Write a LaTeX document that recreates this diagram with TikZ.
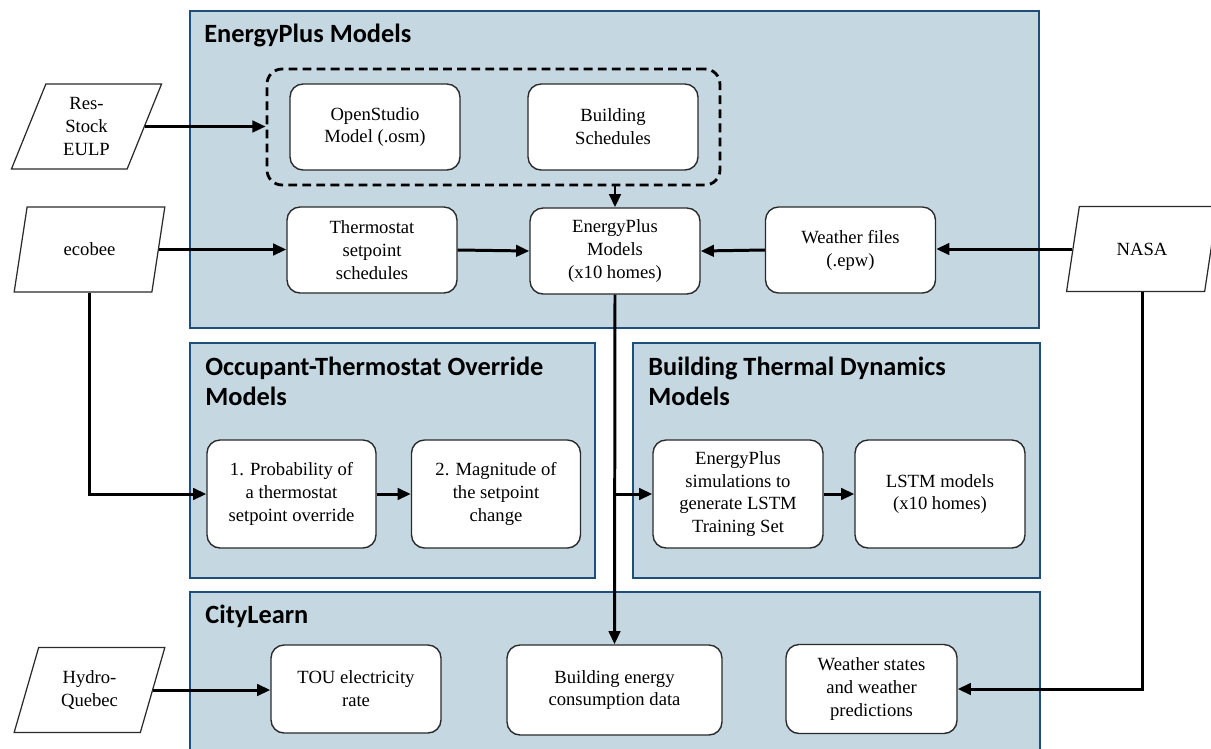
\documentclass[tikz,border=0pt]{standalone}
\usepackage{fontspec}
\setmainfont{Liberation Serif}
\newfontfamily\titlefont{Carlito}
\usetikzlibrary{arrows.meta,shapes.geometric}
\definecolor{panelfill}{HTML}{C5D8E1}
\definecolor{panelborder}{HTML}{1F4E79}
\definecolor{boxborder}{HTML}{2A2A2A}
\begin{document}
\begin{tikzpicture}[x=0.02cm,y=-0.02cm,
  panel/.style={draw=panelborder, fill=panelfill, line width=1.6pt},
  box/.style={draw=boxborder, fill=white, rounded corners=0.26cm, line width=0.8pt, align=center,
    minimum width=3.4cm, minimum height=1.72cm, inner sep=2pt, font=\fontsize{10.6}{13}\selectfont},
  para/.style={trapezium, trapezium left angle=71, trapezium right angle=109, trapezium stretches=true,
    draw=boxborder, fill=white, line width=0.7pt, minimum width=3.02cm, minimum height=1.7cm,
    inner sep=1pt, align=center, font=\fontsize{10.6}{13}\selectfont},
  grpbox/.style={draw=black, dash pattern=on 5pt off 3pt, line width=1.6pt, rounded corners=0.3cm,
    minimum width=9.06cm, minimum height=2.32cm},
  arr/.style={line width=1.7pt, -{Triangle[length=7.5pt,width=6.5pt]}},
  ptitle/.style={anchor=base west, inner sep=0pt, font=\titlefont\bfseries\fontsize{15}{18}\selectfont}]
\useasboundingbox (0,0) rectangle (1211,748);
\clip (0,0) rectangle (1211,748);
% panels
\draw[panel] (190,11) rectangle (1039,328);
\draw[panel] (190,343) rectangle (595,578);
\draw[panel] (633,343) rectangle (1040,578);
\draw[panel] (190,592) rectangle (1040,770);
% titles
\node[ptitle] (t1) at (204,42) {EnergyPlus Models};
\node[ptitle] (t2a) at (205,375) {Occupant-Thermostat Override};
\node[ptitle] (t2b) at (205,405) {Models};
\node[ptitle] (t3a) at (648,375) {Building Thermal Dynamics};
\node[ptitle] (t3b) at (648,405) {Models};
\node[ptitle] (t4) at (205,623) {CityLearn};
% dashed group
\node[grpbox] (grp) at (493.5,127) {};
% boxes
\node[box] (osm) at (375,127) {OpenStudio\\Model (.osm)};
\node[box] (bs) at (613,127) {Building\\Schedules};
\node[box] (th) at (372,250) {Thermostat\\setpoint\\schedules};
\node[box] (ep) at (615,251) {EnergyPlus\\Models\\(x10 homes)};
\node[box] (wf) at (850.5,250) {Weather files\\(.epw)};
\node[box, minimum width=3.38cm, minimum height=2.16cm] (prob) at (291.5,494) {1. Probability of\\a thermostat\\setpoint override};
\node[box, minimum width=3.38cm, minimum height=2.16cm] (mag) at (496,494) {2. Magnitude of\\the setpoint\\change};
\node[box, minimum width=3.4cm, minimum height=2.16cm] (sim) at (738,494) {EnergyPlus\\simulations to\\generate LSTM\\Training Set};
\node[box, minimum width=3.4cm, minimum height=2.16cm] (lstm) at (940,494) {LSTM models\\(x10 homes)};
\node[box, minimum height=1.76cm] (tou) at (356,689) {TOU electricity\\rate};
\node[box, minimum width=4.3cm, minimum height=1.8cm] (be) at (614.5,690) {Building energy\\consumption data};
\node[box, minimum width=3.42cm, minimum height=1.78cm] (ws) at (871.5,689) {Weather states\\and weather\\predictions};
% sources
\node[para] (res) at (86.5,126.5) {Res-\\Stock\\EULP};
\node[para] (eco) at (89.5,249.5) {ecobee};
\node[para] (nasa) at (1142,249) {NASA};
\node[para] (hq) at (89.5,690) {Hydro-\\Quebec};
% connectors
\draw[arr] (res.east) -- (res.east -| grp.west);
\draw[arr] (eco.east) -- (eco.east -| th.west);
\draw[arr] (th.east) -- (ep.west);
\draw[arr] (wf.west) -- (ep.east);
\draw[arr] (nasa.west) -- (nasa.west -| wf.east);
\draw[arr] (grp.south -| ep.north) -- (ep.north);
\draw[arr] (ep.south) -- (be.north);
\draw[arr] (ep.south |- sim.west) -- (sim.west);
\draw[arr] (eco.south) |- (prob.west);
\draw[arr] (prob.east) -- (mag.west);
\draw[arr] (sim.east) -- (lstm.west);
\draw[arr] (nasa.south) |- (ws.east);
\draw[arr] (hq.east) -- (hq.east -| tou.west);
\end{tikzpicture}
\end{document}
